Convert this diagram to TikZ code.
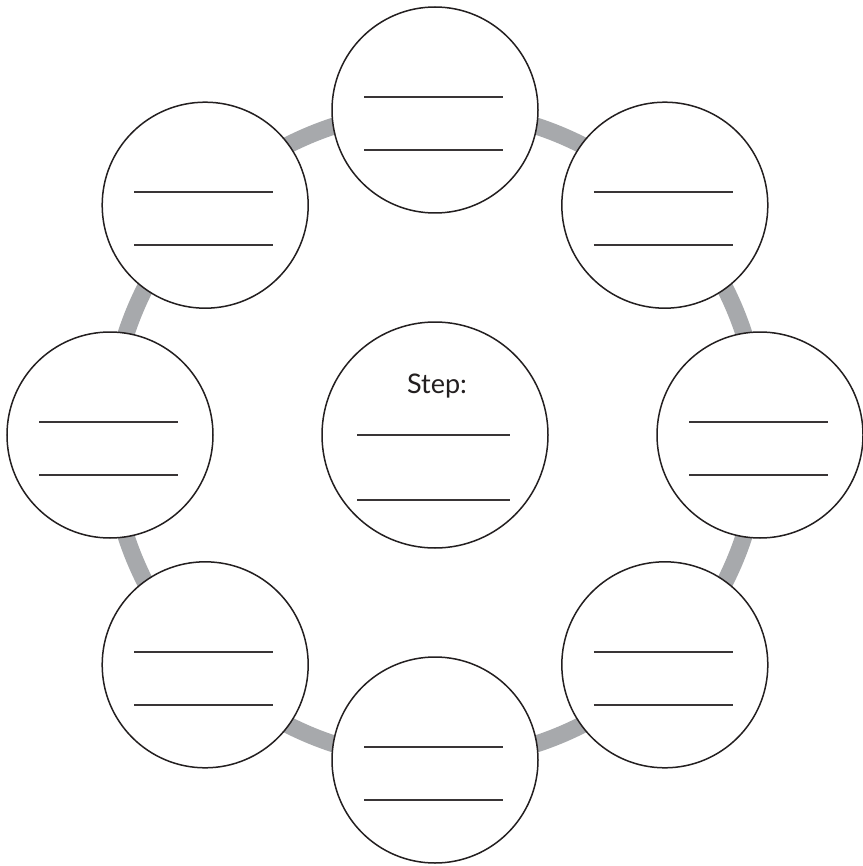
\documentclass[tikz,border=0pt]{standalone}
\usepackage{fontspec}
\setmainfont{Lato}
\usetikzlibrary{calc}
\definecolor{ringgray}{HTML}{A7A9AC}
\definecolor{ink}{HTML}{231F20}
\tikzset{
  stepcircle/.style={circle, draw=ink, line width=1.5pt, fill=white, minimum size=206pt, inner sep=0pt},
  centercircle/.style={circle, draw=ink, line width=1.5pt, fill=white, minimum size=226pt, inner sep=0pt},
  blankline/.style={draw=ink!90, line width=1.8pt},
  ring/.style={draw=ringgray, line width=17pt}
}
\begin{document}
\begin{tikzpicture}[x=1pt, y=-1pt]
\useasboundingbox (0,0) rectangle (862,866);
\coordinate (hub) at (435,435);
\draw[ring] (hub) circle [radius=325pt];
\foreach \a/\n in {90/c1,45/c2,0/c3,-45/c4,-90/c5,-135/c6,180/c7,135/c8}{
  \node[stepcircle] (\n) at ($(hub)+({325*cos(\a)},{-325*sin(\a)})$) {};
  \draw[blankline] ($(\n.center)+(-71,-13)$) -- ($(\n.center)+(68,-13)$);
  \draw[blankline] ($(\n.center)+(-71,40)$) -- ($(\n.center)+(68,40)$);
}
\node[centercircle] (mid) at (hub) {};
\node[anchor=base, font=\fontsize{27}{30}\selectfont, text=ink] (steplabel) at (437,393) {Step:};
\draw[blankline] ($(mid.center)+(-78,0)$) -- ($(mid.center)+(75,0)$);
\draw[blankline] ($(mid.center)+(-78,65)$) -- ($(mid.center)+(75,65)$);
\end{tikzpicture}
\end{document}
